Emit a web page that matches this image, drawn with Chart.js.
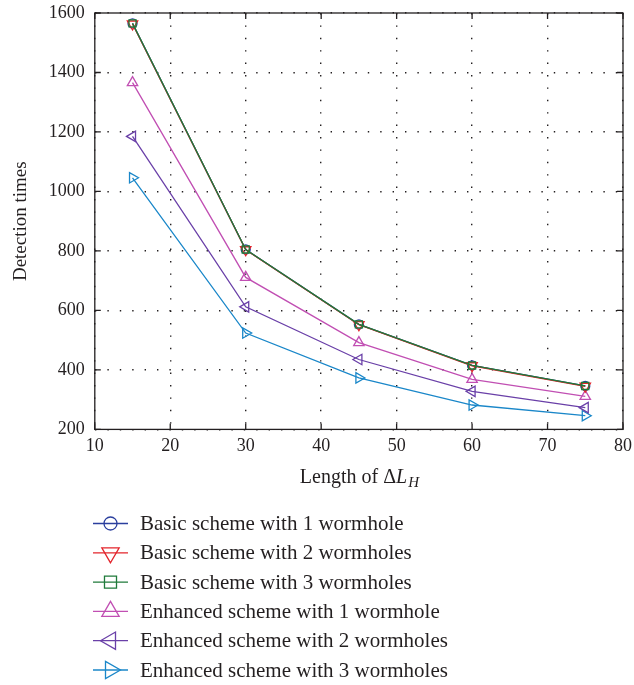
<!DOCTYPE html>
<html>
<head>
<meta charset="utf-8">
<script src="https://cdn.jsdelivr.net/npm/chart.js@4.4.0/dist/chart.umd.min.js"></script>
<style>
  html, body { margin: 0; padding: 0; background: #fff; }
  #wrap { width: 634px; height: 685px; }
</style>
</head>
<body>
<div id="wrap"><canvas id="detectionChart"></canvas></div>
<script>
// valores
const lengths = [15, 30, 45, 60, 75];
const basic1 = [1565, 805, 553, 415, 346];
const basic2 = [1563, 804, 552, 414, 345];
const basic3 = [1565, 805, 553, 415, 346];
const enhanced1 = [1366, 711, 492, 368, 311];
const enhanced2 = [1185, 612, 435, 328, 273];
const enhanced3 = [1046, 524, 373, 282, 246];

const xTicks = [10, 20, 30, 40, 50, 60, 70, 80];
const yTicks = [200, 400, 600, 800, 1000, 1200, 1400, 1600];

const seriesLabels = [
    'Basic scheme with 1 wormhole',
    'Basic scheme with 2 wormholes',
    'Basic scheme with 3 wormholes',
    'Enhanced scheme with 1 wormhole',
    'Enhanced scheme with 2 wormholes',
    'Enhanced scheme with 3 wormholes'
];

const FONT = "'Liberation Serif', 'DejaVu Serif', serif";
const TEXT = '#231f20';

// tamanho do marcador: no gráfico e na legenda
const markerSize = {
    circle: [4.5, 6.5],
    rect: [5, 8.5],
    triangle: [6, 10]
};

function toPoints(values) {
    return values.map((v, i) => ({ x: lengths[i], y: v }));
}

function serie(label, values, color, style, rotation, order) {
    return {
        label: label,
        data: toPoints(values),
        order: order,
        borderColor: color,
        backgroundColor: 'transparent',
        borderWidth: 1.3,
        pointStyle: style,
        pointRotation: rotation,
        pointRadius: markerSize[style][0],
        pointBorderWidth: 1.3,
        pointBackgroundColor: 'transparent',
        pointBorderColor: color,
        tension: 0
    };
}

// caixa do gráfico com marcas de escala voltadas para dentro + legenda + título do eixo x
const frameAndLegend = {
    id: 'frameAndLegend',
    afterDraw(chart) {
        const ctx = chart.ctx;
        const a = chart.chartArea;
        const xs = chart.scales.x;
        const ys = chart.scales.y;
        const tick = 6;

        ctx.save();
        ctx.strokeStyle = '#231f20';
        ctx.lineWidth = 1.3;
        ctx.strokeRect(a.left, a.top, a.right - a.left, a.bottom - a.top);
        ctx.beginPath();
        xTicks.forEach(t => {
            const px = xs.getPixelForValue(t);
            ctx.moveTo(px, a.bottom); ctx.lineTo(px, a.bottom - tick);
            ctx.moveTo(px, a.top); ctx.lineTo(px, a.top + tick);
        });
        yTicks.forEach(t => {
            const py = ys.getPixelForValue(t);
            ctx.moveTo(a.left, py); ctx.lineTo(a.left + tick, py);
            ctx.moveTo(a.right, py); ctx.lineTo(a.right - tick, py);
        });
        ctx.stroke();

        // título do eixo x: Length of ΔL_H
        const cx = (a.left + a.right) / 2;
        const ty = a.bottom + 48;
        ctx.fillStyle = TEXT;
        ctx.textBaseline = 'middle';
        ctx.textAlign = 'left';
        const f1 = "20px " + FONT;
        const f2 = "italic 20px " + FONT;
        const f3 = "italic 15px " + FONT;
        ctx.font = f1; const w1 = ctx.measureText('Length of \u0394').width;
        ctx.font = f2; const w2 = ctx.measureText('L').width;
        ctx.font = f3; const w3 = ctx.measureText('H').width;
        const sx = cx - (w1 + w2 + w3) / 2;
        ctx.font = f1; ctx.fillText('Length of \u0394', sx, ty);
        ctx.font = f2; ctx.fillText('L', sx + w1, ty);
        ctx.font = f3; ctx.fillText('H', sx + w1 + w2 + 1, ty + 6);

        // legenda vertical
        chart.data.datasets.forEach((ds, i) => {
            const y = 523.5 + i * 29.3;
            ctx.strokeStyle = ds.borderColor;
            ctx.fillStyle = 'rgba(0,0,0,0)';
            ctx.lineWidth = 1.3;
            ctx.beginPath();
            ctx.moveTo(93, y); ctx.lineTo(128, y);
            ctx.stroke();
            Chart.helpers.drawPoint(ctx, {
                pointStyle: ds.pointStyle,
                rotation: ds.pointRotation,
                radius: markerSize[ds.pointStyle][1],
                borderWidth: 1.3
            }, 110.5, y);
            ctx.fillStyle = TEXT;
            ctx.font = "21px " + FONT;
            ctx.textAlign = 'left';
            ctx.textBaseline = 'middle';
            ctx.fillText(ds.label, 140, y + 1);
        });
        ctx.restore();
    }
};

const ctx = document.getElementById('detectionChart').getContext('2d');

new Chart(ctx, {
    type: 'line',
    data: {
        datasets: [
            serie(seriesLabels[0], basic1, '#2b3f9e', 'circle', 0, 2),
            serie(seriesLabels[1], basic2, '#e3242b', 'triangle', 180, 1),
            serie(seriesLabels[2], basic3, '#1f7a3a', 'rect', 0, 0),
            serie(seriesLabels[3], enhanced1, '#c14fb3', 'triangle', 0, 3),
            serie(seriesLabels[4], enhanced2, '#6a40a8', 'triangle', -90, 4),
            serie(seriesLabels[5], enhanced3, '#1a87c9', 'triangle', 90, 5)
        ]
    },
    options: {
        responsive: true,
        maintainAspectRatio: false,
        animation: false,
        layout: {
            padding: { top: 13, right: 11, bottom: 222, left: 6 }
        },
        scales: {
            x: {
                type: 'linear',
                min: 10,
                max: 80,
                afterBuildTicks: axis => { axis.ticks = xTicks.map(v => ({ value: v })); },
                afterFit: axis => { axis.paddingLeft = 0; axis.paddingRight = 0; },
                grid: { color: '#231f20', lineWidth: 1.4, drawTicks: false },
                border: { display: false, dash: [1.4, 11] },
                ticks: {
                    padding: 6,
                    color: TEXT,
                    font: { family: FONT, size: 18 },
                    callback: v => String(v)
                }
            },
            y: {
                min: 200,
                max: 1600,
                afterBuildTicks: axis => { axis.ticks = yTicks.map(v => ({ value: v })); },
                afterFit: axis => { axis.paddingTop = 0; axis.paddingBottom = 0; },
                grid: { color: '#231f20', lineWidth: 1.4, drawTicks: false },
                border: { display: false, dash: [1.4, 11] },
                title: {
                    display: true,
                    text: 'Detection times',
                    color: TEXT,
                    font: { family: FONT, size: 19 },
                    padding: { top: 4, bottom: 6 }
                },
                ticks: {
                    padding: 10,
                    color: TEXT,
                    font: { family: FONT, size: 18 },
                    callback: v => String(v)
                }
            }
        },
        plugins: {
            legend: { display: false },
            tooltip: { enabled: false }
        }
    },
    plugins: [frameAndLegend]
});
</script>
</body>
</html>
